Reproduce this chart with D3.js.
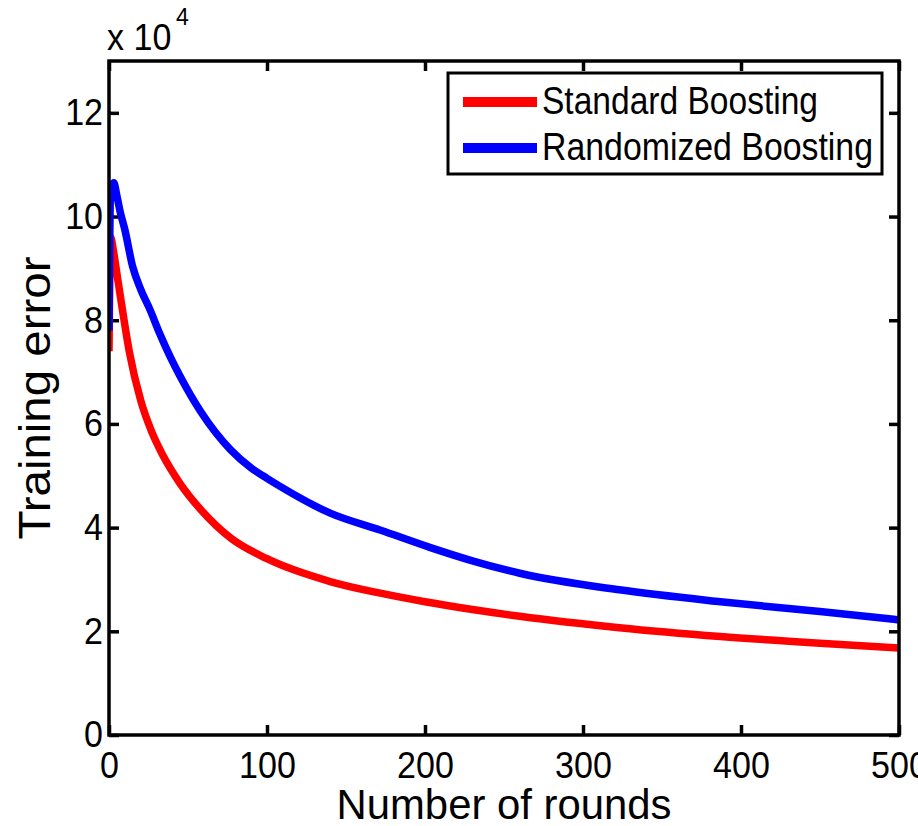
<!DOCTYPE html>
<html>
<head>
<meta charset="utf-8">
<script src="https://cdn.jsdelivr.net/npm/d3@7"></script>
<style>
  html, body { margin: 0; padding: 0; background: #fff; }
  svg { display: block; }
  text { font-family: "Liberation Sans", Arial, sans-serif; fill: #000; }
</style>
</head>
<body>
<svg id="chart" width="918" height="826"></svg>
<script>
// ---- data (values in units of 1e4) ----
const seriesNames = ["Standard Boosting", "Randomized Boosting"];
const seriesColors = ["#ff0000", "#0000ff"];
const standardRounds = [0, 1, 3, 5, 8, 13, 20, 27, 34, 45, 58, 77, 100, 140, 171, 200, 230, 260, 323, 387, 450, 500];
const standardError  = [7.4, 9.6, 9.3, 8.9, 8.3, 7.37, 6.46, 5.85, 5.40, 4.85, 4.35, 3.80, 3.40, 2.96, 2.74, 2.57, 2.42, 2.29, 2.07, 1.90, 1.77, 1.68];
const randomRounds = [0, 1, 3, 5, 7, 10, 15, 20, 26, 32, 39, 45, 58, 77, 90, 100, 108, 140, 172, 203, 230, 260, 323, 387, 450, 500];
const randomError  = [7.8, 10.5, 10.65, 10.4, 10.1, 9.75, 9.03, 8.6, 8.2, 7.75, 7.28, 6.92, 6.24, 5.50, 5.15, 4.95, 4.80, 4.28, 3.95, 3.62, 3.36, 3.12, 2.80, 2.57, 2.38, 2.22];
const xTicks = [0, 100, 200, 300, 400, 500];
const yTicks = [0, 2, 4, 6, 8, 10, 12];
const xLabel = "Number of rounds";
const yLabel = "Training error";

// ---- layout ----
const L = 109, R = 899, T = 61, B = 735;
const svg = d3.select("#chart");
const x = d3.scaleLinear().domain([0, 500]).range([L, R]);
const y = d3.scaleLinear().domain([0, 13]).range([B, T]);

function condense(sel, f) {
  sel.each(function () {
    const w = this.getComputedTextLength();
    this.setAttribute("textLength", w * f);
    this.setAttribute("lengthAdjust", "spacingAndGlyphs");
  });
}

// axes
const tickFont = 37;
const gx = svg.append("g").attr("transform", `translate(0,${B})`)
  .call(d3.axisBottom(x).tickValues(xTicks).tickSizeInner(-10).tickSizeOuter(0).tickPadding(17).tickFormat(d3.format("d")));
const gy = svg.append("g").attr("transform", `translate(${L},0)`)
  .call(d3.axisLeft(y).tickValues(yTicks).tickSizeInner(-10).tickSizeOuter(0).tickPadding(6).tickFormat(d3.format("d")));
const gt = svg.append("g").attr("transform", `translate(0,${T})`)
  .call(d3.axisTop(x).tickValues(xTicks).tickSizeInner(-10).tickSizeOuter(0).tickFormat(""));
const gr = svg.append("g").attr("transform", `translate(${R},0)`)
  .call(d3.axisRight(y).tickValues(yTicks).tickSizeInner(-10).tickSizeOuter(0).tickFormat(""));
[gx, gy, gt, gr].forEach(g => {
  g.select(".domain").remove();
  g.selectAll(".tick line").attr("stroke", "#000").attr("stroke-width", 3.5);
  g.selectAll("text").attr("font-size", tickFont).attr("font-family", null).attr("fill", "#000");
});
condense(gx.selectAll("text"), 0.92);
condense(gy.selectAll("text"), 0.92);

// curves
svg.append("clipPath").attr("id", "clip").append("rect")
  .attr("x", L).attr("y", T).attr("width", R - L).attr("height", B - T);
const line = d3.line().x(d => x(d[0])).y(d => y(d[1])).curve(d3.curveMonotoneX);
const series = [
  d3.zip(standardRounds, standardError),
  d3.zip(randomRounds, randomError)
];
series.forEach((s, i) => {
  svg.append("path").datum(s)
    .attr("clip-path", "url(#clip)")
    .attr("fill", "none")
    .attr("stroke", seriesColors[i])
    .attr("stroke-width", 7.5)
    .attr("stroke-linejoin", "round")
    .attr("d", line);
});

// box
svg.append("rect").attr("x", L).attr("y", T).attr("width", R - L).attr("height", B - T)
  .attr("fill", "none").attr("stroke", "#000").attr("stroke-width", 3.5);

// exponent label
const ex = svg.append("text").attr("x", 107).attr("y", 50).attr("font-size", 37).text("x 10");
condense(ex, 0.92);
svg.append("text").attr("x", 176).attr("y", 25).attr("font-size", 23).text("4");

// axis labels
svg.append("text").attr("x", (L + R) / 2).attr("y", 819).attr("text-anchor", "middle")
  .attr("font-size", 42).attr("textLength", 335).attr("lengthAdjust", "spacingAndGlyphs").text(xLabel);
svg.append("text").attr("transform", `translate(50,${(T + B) / 2}) rotate(-90)`).attr("text-anchor", "middle")
  .attr("font-size", 44).attr("textLength", 283).attr("lengthAdjust", "spacingAndGlyphs").text(yLabel);

// legend
const lg = svg.append("g");
lg.append("rect").attr("x", 448).attr("y", 73).attr("width", 434).attr("height", 101)
  .attr("fill", "#fff").attr("stroke", "#000").attr("stroke-width", 3);
const legendY = [102, 148];
const legendLen = [276, 331];
seriesNames.forEach((name, i) => {
  lg.append("line").attr("x1", 463).attr("x2", 537).attr("y1", legendY[i]).attr("y2", legendY[i])
    .attr("stroke", seriesColors[i]).attr("stroke-width", 10);
  lg.append("text").attr("x", 542).attr("y", legendY[i] + 12).attr("font-size", 38)
    .attr("textLength", legendLen[i]).attr("lengthAdjust", "spacingAndGlyphs").text(name);
});
</script>
</body>
</html>
